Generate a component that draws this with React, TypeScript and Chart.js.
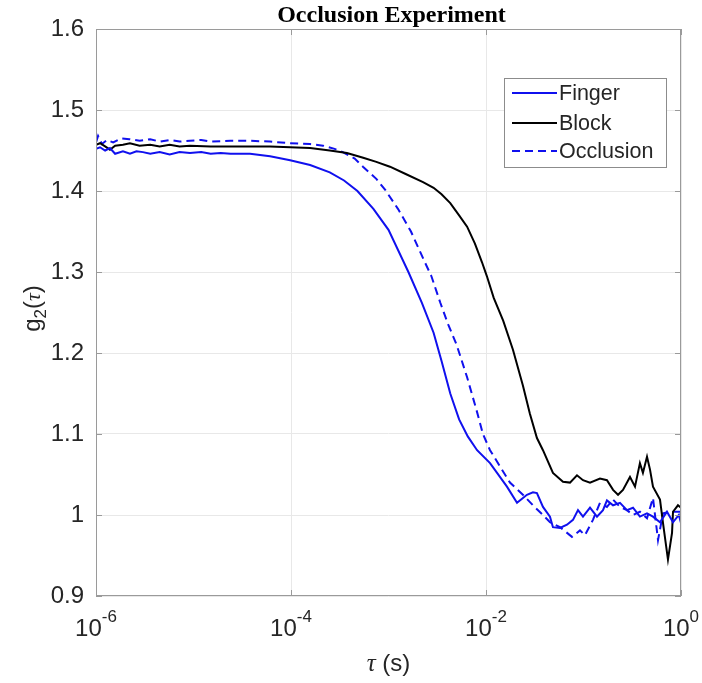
import React, { useEffect, useRef } from "react";
import { Chart, registerables } from "chart.js";

Chart.register(...registerables);

const TITLE = "Occlusion Experiment";
const X_TICK_VALUES = [1e-6, 1e-4, 1e-2, 1];
const X_TICK_EXPONENTS = ["-6", "-4", "-2", "0"];
const Y_TICK_VALUES = [0.9, 1.0, 1.1, 1.2, 1.3, 1.4, 1.5, 1.6];
const Y_TICK_LABELS = ["0.9", "1", "1.1", "1.2", "1.3", "1.4", "1.5", "1.6"];

const fingerTau = [
  1e-6, 1.1e-6, 1.24e-6, 1.39e-6, 1.57e-6, 1.89e-6, 2.23e-6, 2.6e-6, 3.03e-6, 3.6e-6,
  4.5e-6, 5.7e-6, 7.2e-6, 9.2e-6, 1.2e-5, 1.5e-5, 1.9e-5, 2.4e-5, 3.8e-5, 6.1e-5,
  9.8e-5, 1.57e-4, 2.5e-4, 3.5e-4, 4.8e-4, 7e-4, 1.0e-3, 1.6e-3, 2.2e-3, 2.9e-3,
  3.5e-3, 4.3e-3, 5.3e-3, 6.5e-3, 8.1e-3, 1.1e-2, 1.64e-2, 2.08e-2, 2.63e-2, 3.03e-2,
  3.33e-2, 3.84e-2, 4.53e-2, 4.86e-2, 5.74e-2, 6.77e-2, 7.8e-2, 8.78e-2, 9.88e-2, 0.1166,
  0.1375, 0.1585, 0.174, 0.201, 0.2367, 0.279, 0.322, 0.379, 0.448, 0.516,
  0.609, 0.718, 0.828, 0.95, 1.0,
];
const fingerG2 = [
  1.452, 1.454, 1.450, 1.453, 1.446, 1.449, 1.446, 1.449, 1.448, 1.446,
  1.448, 1.445, 1.448, 1.447, 1.448, 1.446, 1.447, 1.446, 1.446, 1.443,
  1.438, 1.432, 1.423, 1.413, 1.400, 1.378, 1.352, 1.300, 1.262, 1.225,
  1.190, 1.150, 1.118, 1.097, 1.080, 1.064, 1.035, 1.015, 1.025, 1.028,
  1.027, 1.010, 0.998, 0.985, 0.984, 0.988, 0.994, 1.006, 0.998, 1.009,
  0.998, 1.006, 1.018, 1.012, 1.015, 1.006, 1.009, 0.998, 1.002, 0.998,
  0.991, 1.004, 0.991, 1.000, 0.990,
];

const blockTau = [
  1e-6, 1.1e-6, 1.24e-6, 1.39e-6, 1.57e-6, 1.89e-6, 2.23e-6, 2.8e-6, 3.6e-6, 4.5e-6,
  5.7e-6, 7.2e-6, 9.2e-6, 1.5e-5, 2.4e-5, 3.8e-5, 6.1e-5, 9.8e-5, 1.57e-4, 2.5e-4,
  3.75e-4, 5.5e-4, 7.5e-4, 1.035e-3, 1.5e-3, 2.26e-3, 2.9e-3, 3.5e-3, 4.3e-3, 5.3e-3,
  6.4e-3, 7.7e-3, 9.1e-3, 1.02e-2, 1.2e-2, 1.5e-2, 1.89e-2, 2.39e-2, 2.82e-2, 3.33e-2,
  3.84e-2, 4.86e-2, 6.16e-2, 7.27e-2, 8.57e-2, 9.88e-2, 0.1166, 0.1476, 0.174, 0.201,
  0.226, 0.254, 0.2998, 0.3375, 0.379, 0.407, 0.448, 0.481, 0.516, 0.609,
  0.654, 0.735, 0.809, 0.828, 0.931, 1.0,
];
const blockG2 = [
  1.457, 1.459, 1.455, 1.451, 1.456, 1.457, 1.459, 1.456, 1.457, 1.455,
  1.457, 1.455, 1.456, 1.455, 1.455, 1.455, 1.455, 1.454, 1.453, 1.450,
  1.447, 1.441, 1.436, 1.430, 1.421, 1.411, 1.404, 1.396, 1.385, 1.370,
  1.356, 1.335, 1.312, 1.295, 1.268, 1.240, 1.204, 1.160, 1.125, 1.095,
  1.080, 1.052, 1.041, 1.040, 1.049, 1.043, 1.040, 1.045, 1.043, 1.031,
  1.025, 1.031, 1.047, 1.035, 1.064, 1.052, 1.072, 1.056, 1.035, 1.019,
  0.990, 0.945, 0.978, 1.004, 1.012, 1.009,
];

const occlusionTau = [
  1e-6, 1.05e-6, 1.15e-6, 1.3e-6, 1.5e-6, 1.8e-6, 2.2e-6, 2.8e-6, 3.6e-6, 4.5e-6,
  5.7e-6, 7.2e-6, 9.2e-6, 1.2e-5, 1.5e-5, 2.4e-5, 3.8e-5, 6.1e-5, 9.8e-5, 1.57e-4,
  2.13e-4, 2.8e-4, 3.4e-4, 4.5e-4, 5.47e-4, 7.5e-4, 9.3e-4, 1.25e-3, 1.7e-3, 2.3e-3,
  2.75e-3, 3.4e-3, 4.1e-3, 5.0e-3, 6.4e-3, 8.1e-3, 9.3e-3, 1.1e-2, 1.76e-2, 2.39e-2,
  3.03e-2, 3.84e-2, 4.53e-2, 5.74e-2, 7.62e-2, 9.2e-2, 0.1035, 0.125, 0.1476, 0.174,
  0.201, 0.2367, 0.279, 0.322, 0.379, 0.448, 0.516, 0.581, 0.654, 0.771,
  0.977,
];
const occlusionG2 = [
  1.460, 1.468, 1.458, 1.463, 1.460, 1.465, 1.464, 1.462, 1.464, 1.461,
  1.463, 1.461, 1.462, 1.463, 1.461, 1.462, 1.462, 1.461, 1.459, 1.458,
  1.456, 1.452, 1.448, 1.440, 1.430, 1.415, 1.401, 1.378, 1.350, 1.315,
  1.295, 1.262, 1.235, 1.210, 1.170, 1.127, 1.100, 1.080, 1.040, 1.025,
  1.012, 1.000, 0.991, 0.985, 0.973, 0.981, 0.975, 0.994, 1.015, 1.010,
  1.019, 1.010, 1.006, 1.000, 1.004, 0.996, 1.021, 0.969, 1.002, 1.004,
  1.004,
];

const BLUE = "#1010ee";
const BLACK = "#000000";
const TEXT = "#262626";
const AXIS = "#9a9a9a";
const GRID = "#e8e8e8";
const SANS = '"Liberation Sans", Arial, sans-serif';

const toPoints = (xs: number[], ys: number[]) => xs.map((x, i) => ({ x, y: ys[i] }));

const framePlugin = {
  id: "frame",
  afterDraw(chart: any) {
    const { ctx, chartArea, scales } = chart;
    const { left, right, top, bottom } = chartArea;
    const xs = scales.x;
    const ys = scales.y;
    ctx.save();

    // box
    ctx.strokeStyle = AXIS;
    ctx.lineWidth = 1;
    ctx.strokeRect(left + 0.5, top + 0.5, right - left - 1, bottom - top - 1);

    // inward ticks
    const tl = 6;
    ctx.beginPath();
    X_TICK_VALUES.forEach((v) => {
      const px = Math.round(xs.getPixelForValue(v)) + 0.5;
      ctx.moveTo(px, bottom);
      ctx.lineTo(px, bottom - tl);
      ctx.moveTo(px, top);
      ctx.lineTo(px, top + tl);
    });
    Y_TICK_VALUES.forEach((v) => {
      const py = Math.round(ys.getPixelForValue(v)) + 0.5;
      ctx.moveTo(left, py);
      ctx.lineTo(left + tl, py);
      ctx.moveTo(right, py);
      ctx.lineTo(right - tl, py);
    });
    ctx.stroke();

    ctx.fillStyle = TEXT;
    // y tick labels
    ctx.font = `24px ${SANS}`;
    ctx.textAlign = "right";
    ctx.textBaseline = "middle";
    Y_TICK_VALUES.forEach((v, i) => {
      ctx.fillText(Y_TICK_LABELS[i], left - 12, ys.getPixelForValue(v));
    });

    // x tick labels with superscript exponents
    ctx.textAlign = "left";
    ctx.textBaseline = "alphabetic";
    X_TICK_VALUES.forEach((v, i) => {
      const px = xs.getPixelForValue(v);
      ctx.font = `24px ${SANS}`;
      const wb = ctx.measureText("10").width;
      ctx.font = `17px ${SANS}`;
      const we = ctx.measureText(X_TICK_EXPONENTS[i]).width;
      const x0 = px - (wb + we) / 2;
      ctx.font = `24px ${SANS}`;
      ctx.fillText("10", x0, bottom + 40);
      ctx.font = `17px ${SANS}`;
      ctx.fillText(X_TICK_EXPONENTS[i], x0 + wb, bottom + 26);
    });

    // x axis title: τ (s)
    const cx = (left + right) / 2;
    const tauFont = 'italic 25px "Liberation Serif", serif';
    const sFont = `24px ${SANS}`;
    ctx.font = tauFont;
    const wt = ctx.measureText("τ").width;
    ctx.font = sFont;
    const ws = ctx.measureText(" (s)").width;
    const xx = cx - (wt + ws) / 2;
    ctx.font = tauFont;
    ctx.fillText("τ", xx, bottom + 75);
    ctx.font = sFont;
    ctx.fillText(" (s)", xx + wt, bottom + 75);

    // y axis title: g2(τ)
    ctx.save();
    ctx.translate(40, (top + bottom) / 2 - 4);
    ctx.rotate(-Math.PI / 2);
    const parts = [
      { t: "g", f: `24px ${SANS}`, dy: 0 },
      { t: "2", f: `17px ${SANS}`, dy: 6 },
      { t: "(", f: `24px ${SANS}`, dy: 0 },
      { t: "τ", f: 'italic 22px "Liberation Serif", serif', dy: 0 },
      { t: ")", f: `24px ${SANS}`, dy: 0 },
    ];
    let total = 0;
    parts.forEach((p) => {
      ctx.font = p.f;
      total += ctx.measureText(p.t).width;
    });
    let px0 = -total / 2;
    parts.forEach((p) => {
      ctx.font = p.f;
      ctx.fillText(p.t, px0, p.dy);
      px0 += ctx.measureText(p.t).width;
    });
    ctx.restore();

    // title
    ctx.fillStyle = "#000";
    ctx.font = 'bold 24px "Liberation Serif", "Times New Roman", serif';
    ctx.textAlign = "center";
    ctx.fillText(TITLE, cx + 3, top - 7);

    // legend
    const lx = 504, ly = 78, lw = 162, lh = 89;
    ctx.fillStyle = "#fff";
    ctx.fillRect(lx, ly, lw, lh);
    ctx.strokeStyle = "#8c8c8c";
    ctx.lineWidth = 1;
    ctx.strokeRect(lx + 0.5, ly + 0.5, lw, lh);
    const rows = [93, 123, 151];
    chart.data.datasets.forEach((ds: any, i: number) => {
      const yy = rows[i];
      ctx.strokeStyle = ds.borderColor;
      ctx.lineWidth = 2;
      ctx.setLineDash(ds.borderDash || []);
      ctx.beginPath();
      ctx.moveTo(512, yy);
      ctx.lineTo(557, yy);
      ctx.stroke();
      ctx.setLineDash([]);
      ctx.fillStyle = TEXT;
      ctx.font = `21.5px ${SANS}`;
      ctx.textAlign = "left";
      ctx.textBaseline = "middle";
      ctx.fillText(ds.label, 559, yy + 1);
    });

    ctx.restore();
  },
};

export default function App() {
  const ref = useRef<HTMLCanvasElement | null>(null);
  useEffect(() => {
    if (!ref.current) return;
    const chart = new Chart(ref.current, {
      type: "line",
      data: {
        datasets: [
          {
            label: "Finger",
            data: toPoints(fingerTau, fingerG2),
            borderColor: BLUE,
            borderWidth: 2,
            pointRadius: 0,
            tension: 0,
          },
          {
            label: "Block",
            data: toPoints(blockTau, blockG2),
            borderColor: BLACK,
            borderWidth: 2,
            pointRadius: 0,
            tension: 0,
          },
          {
            label: "Occlusion",
            data: toPoints(occlusionTau, occlusionG2),
            borderColor: BLUE,
            borderWidth: 2,
            borderDash: [8, 5],
            pointRadius: 0,
            tension: 0,
          },
        ],
      },
      options: {
        responsive: false,
        animation: false,
        layout: { padding: { left: 96, top: 29, right: 21, bottom: 87 } },
        plugins: { legend: { display: false }, tooltip: { enabled: false }, title: { display: false } },
        scales: {
          x: {
            type: "logarithmic",
            min: 1e-6,
            max: 1,
            afterBuildTicks: (s: any) => {
              s.ticks = X_TICK_VALUES.map((v) => ({ value: v }));
            },
            ticks: { display: false },
            grid: { color: GRID, drawTicks: false, lineWidth: 1 },
            border: { display: false },
          },
          y: {
            type: "linear",
            min: 0.9,
            max: 1.6,
            afterBuildTicks: (s: any) => {
              s.ticks = Y_TICK_VALUES.map((v) => ({ value: v }));
            },
            ticks: { display: false },
            grid: { color: GRID, drawTicks: false, lineWidth: 1 },
            border: { display: false },
          },
        },
      },
      plugins: [framePlugin],
    });
    return () => chart.destroy();
  }, []);
  return (
    <div style={{ position: "fixed", left: 0, top: 0, width: 702, height: 683, background: "#fff" }}>
      <canvas ref={ref} width={702} height={683} />
    </div>
  );
}
